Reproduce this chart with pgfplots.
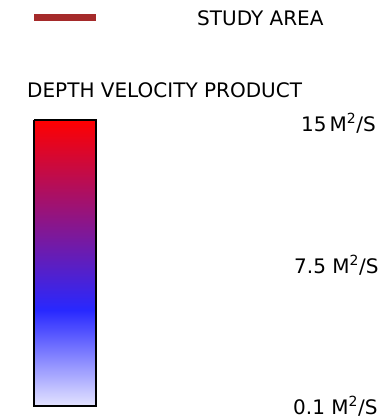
\documentclass[border=0pt]{standalone}
\usepackage{pgfplots}
\pgfplotsset{compat=1.18}
\usepackage{fontspec}
\setmainfont{DejaVu Sans}
\definecolor{studyred}{RGB}{165,42,42}
\begin{document}
\begin{tikzpicture}
\begin{axis}[
  scale only axis, width=381pt, height=420pt,
  xmin=0, xmax=381, ymin=0, ymax=420, y dir=reverse,
  hide axis, clip=false,
  colormap={dvp}{rgb255(0pt)=(228,228,255); rgb255(33.6pt)=(40,40,255); rgb255(100pt)=(255,0,0)},
  point meta min=0.1, point meta max=15,
]
\addplot[draw=none, forget plot] coordinates {(0,0) (381,420)};
% study area line
\addplot[studyred, line width=7.5pt, forget plot] coordinates {(34,17.5) (96,17.5)};
% colour bar
\addplot[surf, shader=interp, mesh/cols=2, point meta=\thisrow{m}] table {
x y m
34 406 0.1
96 406 0.1
34 358 2.6
96 358 2.6
34 310 5.1
96 310 5.1
34 264 7.5
96 264 7.5
34 216 10
96 216 10
34 168 12.5
96 168 12.5
34 120 15
96 120 15
};
\addplot[black, line width=1.2pt, line join=miter, forget plot] coordinates {(34,120) (96,120) (96,406) (34,406) (34,120)};
\begin{scope}[every node/.style={inner sep=0pt, font=\fontsize{20}{24}\selectfont}]
\node[anchor=base west] at (axis cs:197,26) {STUDY AREA};
\node[anchor=base west] at (axis cs:27,97) {DEPTH VELOCITY PRODUCT};
\node[anchor=base west] at (axis cs:301,131) {15\kern3pt M\textsuperscript{2}/S};
\node[anchor=base west] at (axis cs:294,273) {7.5 M\textsuperscript{2}/S};
\node[anchor=base west] at (axis cs:293,414) {0.1 M\textsuperscript{2}/S};
\end{scope}
\end{axis}
\end{tikzpicture}
\end{document}
